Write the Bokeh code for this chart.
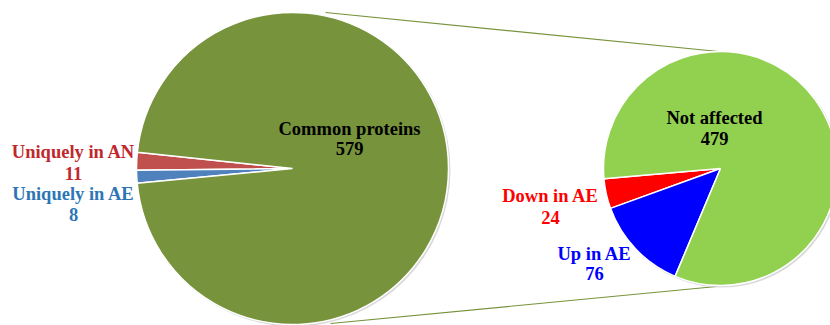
import math
from bokeh.plotting import figure
from bokeh.models import ColumnDataSource
from bokeh.core.properties import value
from bokeh.embed import file_html
from bokeh.resources import INLINE

# ---- data ----
main_labels = ["Common proteins", "Uniquely in AN", "Uniquely in AE"]
main_values = [579, 11, 8]
main_colors = ["#77933C", "#C0504D", "#4F81BD"]

sub_labels = ["Not affected", "Down in AE", "Up in AE"]
sub_values = [479, 24, 76]
sub_colors = ["#92D050", "#FF0000", "#0000FF"]

W, H = 830, 325
p = figure(width=W, height=H, x_range=(0, W), y_range=(0, H),
           output_backend="svg", toolbar_location=None, min_border=0)
p.axis.visible = False
p.grid.visible = False
p.outline_line_color = None
p.background_fill_color = "white"

def Y(py):
    return H - py

def pie(cx, cy, r, values, colors, order, start_deg):
    # soft shadow
    p.circle(x=[cx + 1.5], y=[cy - 1.5], radius=r + 0.5, fill_color="#cfcfcf",
             line_color=None, fill_alpha=0.8)
    total = sum(values)
    a = math.radians(start_deg)
    starts, ends, cols = [], [], []
    for i in order:
        span = 2 * math.pi * values[i] / total
        starts.append(a)
        ends.append(a + span)
        cols.append(colors[i])
        a += span
    src = ColumnDataSource(dict(x=[cx] * len(order), y=[cy] * len(order),
                                s=starts, e=ends, c=cols))
    p.wedge(x="x", y="y", radius=r, start_angle="s", end_angle="e",
            fill_color="c", line_color="white", line_width=1.5, source=src)

# connector lines
p.line(x=[325, 718], y=[Y(12), Y(51)], line_color="#77933C", line_width=1.2)
p.line(x=[330, 716], y=[Y(323), Y(286)], line_color="#77933C", line_width=1.2)

# main pie
pie(292, Y(168), 156, main_values, main_colors, [1, 2, 0], 174)
# secondary pie
pie(720, Y(168), 117, sub_values, sub_colors, [1, 2, 0], 185)

font = value("Liberation Serif")

def label(x, py, txt, color):
    p.text(x=[x], y=[Y(py)], text=[txt], text_font=font, text_font_size="18.5px",
           text_font_style="bold", text_color=color, text_align="center",
           text_baseline="alphabetic")

label(349, 128, main_labels[0], "#000000")
label(349, 148, str(main_values[0]), "#000000")
label(73, 151, main_labels[1], "#C0282D")
label(73, 173, str(main_values[1]), "#C0282D")
label(73, 193, main_labels[2], "#2E75B6")
label(73, 214, str(main_values[2]), "#2E75B6")

label(714, 117, sub_labels[0], "#000000")
label(714, 138, str(sub_values[0]), "#000000")
label(550, 195, sub_labels[1], "#FF0000")
label(550, 217, str(sub_values[1]), "#FF0000")
label(594, 253, sub_labels[2], "#0000FF")
label(594, 273, str(sub_values[2]), "#0000FF")

open("out.html", "w").write(file_html(p, INLINE))
